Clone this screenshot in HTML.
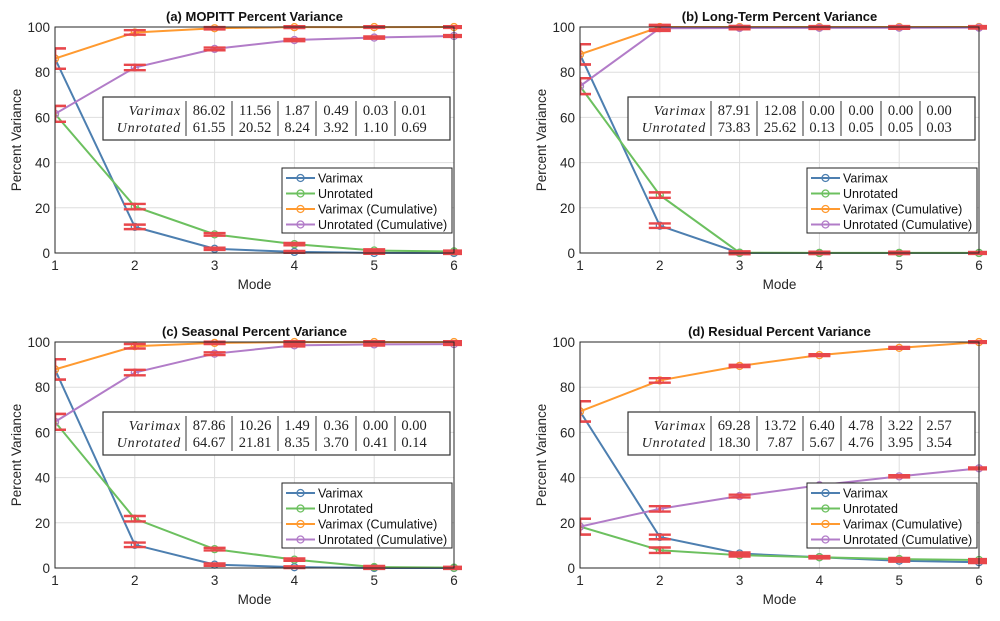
<!DOCTYPE html>
<html><head><meta charset="utf-8"><style>
body{margin:0;background:#fff;font-family:"Liberation Sans",sans-serif}
svg text{font-family:"Liberation Sans",sans-serif}
</style></head><body>
<svg id="s" width="1000" height="616" xmlns="http://www.w3.org/2000/svg"></svg>
<script>
const modes=[1,2,3,4,5,6];
const yTicks=[0,20,40,60,80,100];
const titles=["(a) MOPITT Percent Variance","(b) Long-Term Percent Variance","(c) Seasonal Percent Variance","(d) Residual Percent Variance"];
const varA=[86.02,11.56,1.87,0.49,0.03,0.01], unrA=[61.55,20.52,8.24,3.92,1.10,0.69];
const varCumA=[86.02,97.58,99.45,99.94,99.97,99.98], unrCumA=[61.55,82.07,90.31,94.23,95.33,96.02];
const varB=[87.91,12.08,0.00,0.00,0.00,0.00], unrB=[73.83,25.62,0.13,0.05,0.05,0.03];
const varCumB=[87.91,99.99,99.99,99.99,99.99,99.99], unrCumB=[73.83,99.45,99.58,99.63,99.68,99.71];
const varC=[87.86,10.26,1.49,0.36,0.00,0.00], unrC=[64.67,21.81,8.35,3.70,0.41,0.14];
const varCumC=[87.86,98.12,99.61,99.97,99.97,99.97], unrCumC=[64.67,86.48,94.83,98.53,98.94,99.08];
const varD=[69.28,13.72,6.40,4.78,3.22,2.57], unrD=[18.30,7.87,5.67,4.76,3.95,3.54];
const varCumD=[69.28,83.00,89.40,94.18,97.40,99.97], unrCumD=[18.30,26.17,31.84,36.60,40.55,44.09];
const errVar=[4.5,1.0,0.5,0.4,0.4,0.4], errUnr=[3.5,1.2,0.6,0.5,0.5,0.4];
const tableVar=[["86.02","11.56","1.87","0.49","0.03","0.01"],["87.91","12.08","0.00","0.00","0.00","0.00"],["87.86","10.26","1.49","0.36","0.00","0.00"],["69.28","13.72","6.40","4.78","3.22","2.57"]];
const tableUnr=[["61.55","20.52","8.24","3.92","1.10","0.69"],["73.83","25.62","0.13","0.05","0.05","0.03"],["64.67","21.81","8.35","3.70","0.41","0.14"],["18.30","7.87","5.67","4.76","3.95","3.54"]];
const panelsData=[[varA,unrA,varCumA,unrCumA],[varB,unrB,varCumB,unrCumB],[varC,unrC,varCumC,unrCumC],[varD,unrD,varCumD,unrCumD]];
const names=["Varimax","Unrotated","Varimax (Cumulative)","Unrotated (Cumulative)"];
const colors=["#4d7fb0","#6cc05f","#ff9a30","#b27cc8"];
const boxes=[[55,27],[580,27],[55,342],[580,342]];
const W=399,H=226;
const NS="http://www.w3.org/2000/svg";
const svg=document.getElementById('s');
function mk(t,a,p){const e=document.createElementNS(NS,t);for(const k in a)e.setAttribute(k,a[k]);(p||svg).appendChild(e);return e;}
panelsData.forEach((ser,pi)=>{
 const [L,T]=boxes[pi];
 const X=m=>L+(m-1)/5*W, Y=v=>T+H-v/100*H;
 const g=mk('g',{});
 
 
 const cp=mk('clipPath',{id:'c'+pi},g);mk('rect',{x:L,y:T-6,width:W+8,height:H+12},cp);
 mk('rect',{x:L,y:T,width:W,height:H,fill:'#fff'},g);
 modes.forEach(m=>{const l=mk('line',{x1:X(m),x2:X(m),y1:T,y2:T+H,stroke:'#dedede'},g);
  const t=mk('text',{x:X(m),y:T+H+17,'text-anchor':'middle','font-size':13.5,fill:'#262626'},g);t.textContent=m;});
 yTicks.forEach(v=>{const l=mk('line',{x1:L,x2:L+W,y1:Y(v),y2:Y(v),stroke:'#dedede'},g);
  const t=mk('text',{x:L-5,y:Y(v)+5,'text-anchor':'end','font-size':13.5,fill:'#262626'},g);t.textContent=v;});
 const title=mk('text',{x:L+W/2,y:T-6,'text-anchor':'middle','font-size':13,'font-weight':'bold',fill:'#111'},g);title.textContent=titles[pi];
 
 const xl=mk('text',{x:L+W/2,y:T+H+36,'text-anchor':'middle','font-size':13.5,fill:'#262626'},g);xl.textContent='Mode';
 
 const yl=mk('text',{x:0,y:0,'text-anchor':'middle','font-size':13.5,fill:'#262626',transform:`translate(${L-34},${T+H/2}) rotate(-90)`},g);yl.textContent='Percent Variance';
 
 const cg=mk('g',{'clip-path':`url(#c${pi})`},g);
 ser.forEach((d,si)=>{
  const pl=mk('polyline',{points:d.map((v,i)=>X(modes[i])+','+Y(v)).join(' '),fill:'none',stroke:colors[si],'stroke-width':2},cg);
  
  
  d.forEach((v,i)=>{const c=mk('circle',{cx:X(modes[i]),cy:Y(v),r:3.5,fill:'none',stroke:colors[si],'stroke-width':1.3},cg);
   });
 });
 ser.forEach((d,si)=>{const err=si%2?errUnr:errVar;
  d.forEach((v,i)=>{const x=X(modes[i]),e=err[i]/100*H;
   const eg=mk('g',{stroke:'#e8474b','stroke-width':2.4},cg);
   
   mk('line',{x1:x,x2:x,y1:Y(v)-e,y2:Y(v)+e},eg);
   mk('line',{x1:x-11,x2:x+11,y1:Y(v)-e,y2:Y(v)-e},eg);
   mk('line',{x1:x-11,x2:x+11,y1:Y(v)+e,y2:Y(v)+e},eg);});});
 mk('rect',{x:L,y:T,width:W,height:H,fill:'none',stroke:'#262626','stroke-width':1},g);
 const tx=L+48,ty=T+70;
 const tg=mk('g',{},g);
 mk('rect',{x:tx,y:ty,width:347,height:43,fill:'#fff',stroke:'#333','stroke-width':1.2},tg);
 const cols=[131,177,223,261,301,340];
 cols.forEach(c=>mk('line',{x1:L+c,x2:L+c,y1:ty+4,y2:ty+39,stroke:'#333'},tg));
 [[ 'Varimax',tableVar[pi]],['Unrotated',tableUnr[pi]]].forEach((r,ri)=>{
  const yy=ty+18+ri*17;
  const lab=mk('text',{x:L+126,y:yy,'text-anchor':'end','font-size':14,'font-style':'italic',fill:'#222','letter-spacing':'0.8'},tg);lab.textContent=r[0];lab.style.fontFamily='"Liberation Serif",serif';
  r[1].forEach((v,ci)=>{const x0=L+cols[ci],x1=ci<5?L+cols[ci+1]:L+378;
   const t=mk('text',{x:(x0+x1)/2,y:yy,'text-anchor':'middle','font-size':14.5,fill:'#222'},tg);t.textContent=v;t.style.fontFamily='"Liberation Serif",serif';});
 });
 const lx=L+227,ly=T+141;
 const lg=mk('g',{},g);
 mk('rect',{x:lx,y:ly,width:170,height:65,fill:'#fff',stroke:'#222'},lg);
 names.forEach((n,i)=>{const yy=ly+10+i*15.5;
  const e=mk('g',{},lg);
  mk('line',{x1:lx+4,x2:lx+33,y1:yy,y2:yy,stroke:colors[i],'stroke-width':2},e);
  mk('circle',{cx:lx+18.5,cy:yy,r:3.5,fill:'none',stroke:colors[i],'stroke-width':1.3},e);
  const t=mk('text',{x:lx+36,y:yy+4.5,'font-size':12.5,fill:'#111'},e);t.textContent=n;});
});
</script>
</body></html>
